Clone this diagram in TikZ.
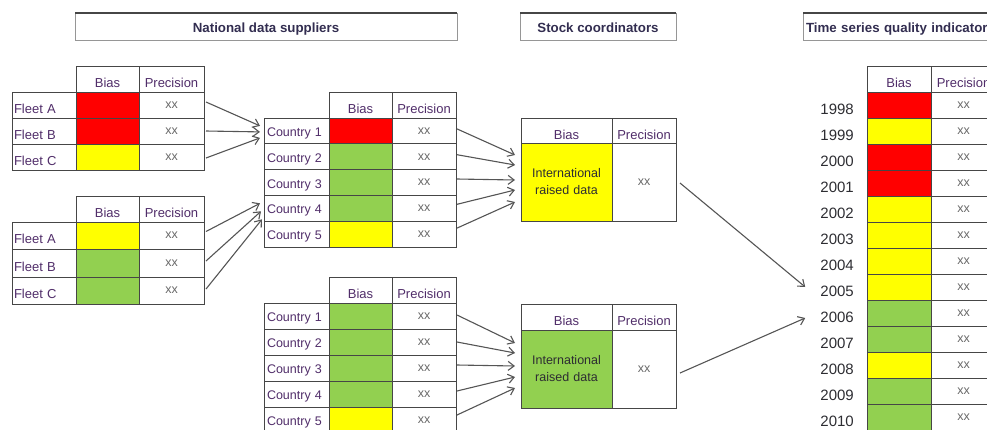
\documentclass[tikz,border=0pt]{standalone}
\usepackage{fontspec}
\setmainfont{Liberation Sans}
\usetikzlibrary{arrows.meta}
\definecolor{cred}{HTML}{FF0000}
\definecolor{cyel}{HTML}{FFFF00}
\definecolor{cgrn}{HTML}{92D050}
\definecolor{labc}{RGB}{80,45,105}
\definecolor{xxc}{RGB}{105,105,105}
\definecolor{gridc}{RGB}{70,70,70}
\definecolor{arrc}{RGB}{85,85,85}
\definecolor{hdrc}{RGB}{50,45,80}
\definecolor{yrc}{RGB}{45,45,50}
\definecolor{boxc}{RGB}{150,150,150}
\tikzset{
  tcell/.style 2 args={draw=gridc, line width=0.9pt, anchor=north west, inner sep=0pt, outer sep=0pt,
    minimum width=#1, minimum height=#2, font=\fontsize{13}{15}\selectfont},
  hcell/.style 2 args={tcell={#1}{#2}, text=labc, text height=17pt, text depth=0pt},
  xcell/.style 2 args={tcell={#1}{#2}, text=xxc, font=\fontsize{12.5}{14}\selectfont},
  fcell/.style 2 args={tcell={0pt}{#2}, text width=#1, align=left, inner xsep=2pt, text=labc,
    text height=16pt, text depth=0pt},
  ccell/.style 2 args={tcell={0pt}{#2}, text width=#1, align=left, inner xsep=3pt, text=labc,
    text height=11pt, text depth=0pt, font=\fontsize{12.5}{14}\selectfont},
  scell/.style 2 args={tcell={0pt}{#2}, text width=#1, align=center, inner xsep=3pt, text=yrc,
    font=\fontsize{12.5}{17}\selectfont},
  yrs/.style={anchor=east, inner sep=0pt, text=yrc, font=\fontsize{15}{17}\selectfont,
    text height=18pt, text depth=0pt},
  hbox/.style 2 args={draw=boxc, line width=1pt, anchor=north west, inner sep=0pt, outer sep=0pt,
    minimum width=#1, minimum height=#2, text=hdrc, font=\bfseries\fontsize{13.3}{15}\selectfont,
    text height=11pt, text depth=0pt},
  topedge/.style={draw=gridc, line width=1.2pt},
  arr/.style={draw=arrc, line width=1.1pt, -{Straight Barb[length=6pt,width=9pt]}}
}
\begin{document}
\begin{tikzpicture}[x=1pt,y=-1pt]
\useasboundingbox (0,0) rectangle (987,429);
\clip (0,0) rectangle (987,429);

% header boxes
\node[hbox={382pt}{27pt}] (h1) at (75,13) {National data suppliers};
\node[hbox={156pt}{27pt}] (h2) at (520,13) {Stock coordinators};
\node[hbox={0pt}{27pt}, text width=204pt, align=left, inner xsep=3pt] (h3) at (803,13) {Time series quality indicators};
\draw[topedge] (h1.north west) -- (h1.north east);
\draw[topedge] (h2.north west) -- (h2.north east);
\draw[topedge] (h3.north west) -- (h3.north east);

% left table 1
\node[hcell={63pt}{26pt}] (aHB) at (76,66) {Bias};
\node[hcell={65pt}{26pt}] (aHP) at (139,66) {Precision};
\foreach \y/\h/\nm/\col [count=\k] in {92/26/Fleet A/cred,118/26/Fleet B/cred,144/26/Fleet C/cyel}{
  \node[fcell={60pt}{\h pt}] (aL\k) at (12,\y) {\nm};
  \node[tcell={63pt}{\h pt}, fill=\col] (aB\k) at (76,\y) {};
  \node[xcell={65pt}{\h pt}] (aP\k) at (139,\y) {xx};
}

% left table 2
\node[hcell={63pt}{26pt}] (bHB) at (76,196) {Bias};
\node[hcell={65pt}{26pt}] (bHP) at (139,196) {Precision};
\foreach \y/\h/\nm/\col [count=\k] in {222/27/Fleet A/cyel,249/28/Fleet B/cgrn,277/27/Fleet C/cgrn}{
  \node[fcell={60pt}{\h pt}] (bL\k) at (12,\y) {\nm};
  \node[tcell={63pt}{\h pt}, fill=\col] (bB\k) at (76,\y) {};
  \node[xcell={65pt}{\h pt}] (bP\k) at (139,\y) {xx};
}

% middle table 1
\node[hcell={63pt}{26pt}] (cHB) at (329,92) {Bias};
\node[hcell={64pt}{26pt}] (cHP) at (392,92) {Precision};
\foreach \y/\col [count=\k] in {118/cred,143.8/cgrn,169.6/cgrn,195.4/cgrn,221.2/cyel}{
  \node[ccell={59pt}{25.8pt}] (cL\k) at (264,\y) {Country~\k};
  \node[tcell={63pt}{25.8pt}, fill=\col] (cB\k) at (329,\y) {};
  \node[xcell={64pt}{25.8pt}] (cP\k) at (392,\y) {xx};
}

% middle table 2
\node[hcell={63pt}{26pt}] (dHB) at (329,277) {Bias};
\node[hcell={64pt}{26pt}] (dHP) at (392,277) {Precision};
\foreach \y/\col [count=\k] in {303/cgrn,329/cgrn,355/cgrn,381/cgrn,407/cyel}{
  \node[ccell={59pt}{26pt}] (dL\k) at (264,\y) {Country~\k};
  \node[tcell={63pt}{26pt}, fill=\col] (dB\k) at (329,\y) {};
  \node[xcell={64pt}{26pt}] (dP\k) at (392,\y) {xx};
}

% stock coordinator table 1
\node[hcell={91pt}{25pt}] (sHB) at (521,118) {Bias};
\node[hcell={64pt}{25pt}] (sHP) at (612,118) {Precision};
\node[scell={85pt}{78pt}, fill=cyel] (sB) at (521,143) {International\\raised data};
\node[xcell={64pt}{78pt}] (sP) at (612,143) {xx};

% stock coordinator table 2
\node[hcell={91pt}{26pt}] (tHB) at (521,304) {Bias};
\node[hcell={64pt}{26pt}] (tHP) at (612,304) {Precision};
\node[scell={85pt}{78pt}, fill=cgrn] (tB) at (521,330) {International\\raised data};
\node[xcell={64pt}{78pt}] (tP) at (612,330) {xx};

% time series table
\node[hcell={64pt}{26pt}] (rHB) at (867,66) {Bias};
\node[hcell={65pt}{26pt}] (rHP) at (931,66) {Precision};
\foreach \col [count=\k from 0] in {cred,cyel,cred,cred,cyel,cyel,cyel,cyel,cgrn,cgrn,cyel,cgrn,cgrn}{
  \pgfmathtruncatemacro\yr{1998+\k}
  \node[tcell={64pt}{26pt}, fill=\col] (rB\k) at (867,{92+26*\k}) {};
  \node[xcell={65pt}{26pt}] (rP\k) at (931,{92+26*\k}) {xx};
  \node[yrs] (yr\yr) at (854,{105+26*\k}) {\yr};
}

% arrows: fleets -> country 1
\draw[arr] ([xshift=2pt,yshift=3pt]aP1.east) -- ([xshift=-4pt,yshift=5pt]cL1.west);
\draw[arr] ([xshift=2pt,yshift=0pt]aP2.east) -- ([xshift=-4pt,yshift=-1pt]cL1.west);
\draw[arr] ([xshift=2pt,yshift=-1pt]aP3.east) -- ([xshift=-4pt,yshift=-7pt]cL1.west);
% fleets -> country 4
\draw[arr] ([xshift=2pt,yshift=4pt]bP1.east) -- ([xshift=-4pt,yshift=5pt]cL4.west);
\draw[arr] ([xshift=2pt,yshift=2pt]bP2.east) -- ([xshift=-3pt,yshift=-3pt]cL4.west);
\draw[arr] ([xshift=2pt,yshift=1.5pt]bP3.east) -- ([xshift=-2pt,yshift=-11pt]cL4.west);
% countries -> stock 1
\draw[arr] ([xshift=1pt,yshift=2pt]cP1.east) -- ([xshift=-6pt,yshift=27pt]sB.west);
\draw[arr] ([xshift=1pt,yshift=2pt]cP2.east) -- ([xshift=-6pt,yshift=17pt]sB.west);
\draw[arr] ([xshift=1pt,yshift=3.5pt]cP3.east) -- ([xshift=-6pt,yshift=2pt]sB.west);
\draw[arr] ([xshift=1pt,yshift=4pt]cP4.east) -- ([xshift=-6pt,yshift=-8pt]sB.west);
\draw[arr] ([xshift=1pt,yshift=6pt]cP5.east) -- ([xshift=-6pt,yshift=-20pt]sB.west);
% countries -> stock 2
\draw[arr] ([xshift=1pt,yshift=1pt]dP1.east) -- ([xshift=-6pt,yshift=26pt]tB.west);
\draw[arr] ([xshift=1pt,yshift=0pt]dP2.east) -- ([xshift=-6pt,yshift=16pt]tB.west);
\draw[arr] ([xshift=1pt,yshift=3pt]dP3.east) -- ([xshift=-6pt,yshift=3pt]tB.west);
\draw[arr] ([xshift=1pt,yshift=3pt]dP4.east) -- ([xshift=-6pt,yshift=-8pt]tB.west);
\draw[arr] ([xshift=1pt,yshift=5pt]dP5.east) -- ([xshift=-6pt,yshift=-19pt]tB.west);
% stock -> time series
\draw[arr] ([xshift=4pt,yshift=-1pt]sP.east) -- ([xshift=-15pt]yr2005.west);
\draw[arr] ([xshift=4pt,yshift=-4pt]tP.east) -- ([xshift=-15pt,yshift=-5pt]yr2006.west);
\end{tikzpicture}
\end{document}
